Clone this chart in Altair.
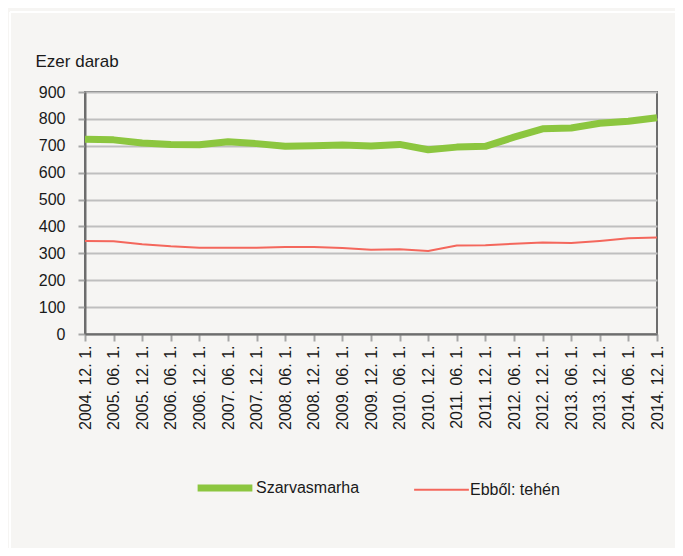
import altair as alt
import pandas as pd

dates = ["2004. 12. 1.", "2005. 06. 1.", "2005. 12. 1.", "2006. 06. 1.", "2006. 12. 1.",
         "2007. 06. 1.", "2007. 12. 1.", "2008. 06. 1.", "2008. 12. 1.", "2009. 06. 1.",
         "2009. 12. 1.", "2010. 06. 1.", "2010. 12. 1.", "2011. 06. 1.", "2011. 12. 1.",
         "2012. 06. 1.", "2012. 12. 1.", "2013. 06. 1.", "2013. 12. 1.", "2014. 06. 1.",
         "2014. 12. 1."]
szarvasmarha = [724, 722, 710, 705, 704, 715, 708, 698, 700, 703, 699, 705, 685, 695, 698,
                732, 763, 766, 784, 791, 804]
tehen = [346, 345, 334, 326, 321, 321, 321, 324, 324, 320, 313, 315, 309, 329, 330,
         336, 340, 338, 346, 356, 359]
series = ["Szarvasmarha", "Ebből: tehén"]
colors = ["#8cc63f", "#f4675c"]
widths = [7, 2]
y_ticks = [0, 100, 200, 300, 400, 500, 600, 700, 800, 900]

rows = []
for i, d in enumerate(dates):
    rows.append({"datum": d, "sorozat": series[0], "ertek": szarvasmarha[i], "idx": i})
    rows.append({"datum": d, "sorozat": series[1], "ertek": tehen[i], "idx": i})
df = pd.DataFrame(rows)

FONT = "Liberation Sans"

legend_opts = dict(title=None, orient="none", direction="horizontal",
                   legendX=109, legendY=365, symbolType="stroke",
                   symbolSize=3000, labelFontSize=16, labelFont=FONT,
                   labelColor="#1a1a1a", columnPadding=50, labelOffset=0)

lines = alt.Chart(df).mark_line(strokeCap="butt", strokeJoin="round").encode(
    x=alt.X("datum:N", sort=dates, scale=alt.Scale(padding=0),
            axis=alt.Axis(title=None, labelAngle=-90, labelFontSize=16, labelFont=FONT,
                          labelColor="#1a1a1a", tickSize=7, tickColor="#a6a6a6",
                          tickWidth=2, labelPadding=4, domainColor="#6d6d6d",
                          domainWidth=2, grid=False, labelBaseline="middle",
                          labelAlign="right")),
    y=alt.Y("ertek:Q", scale=alt.Scale(domain=[0, 900], nice=False),
            axis=alt.Axis(values=y_ticks, title="Ezer darab", titleAngle=0,
                          titleAlign="left", titleBaseline="alphabetic",
                          titleX=-50, titleY=-26, titleFontSize=17, titleFont=FONT,
                          titleFontWeight="normal", titleColor="#1a1a1a",
                          labelFontSize=16, labelFont=FONT, labelColor="#1a1a1a",
                          tickSize=7, tickColor="#a6a6a6", tickWidth=2, labelPadding=13,
                          domainColor="#6d6d6d", domainWidth=2,
                          gridColor="#bfbfbf", gridWidth=2)),
    color=alt.Color("sorozat:N", sort=series,
                    scale=alt.Scale(domain=series, range=colors),
                    legend=alt.Legend(**legend_opts)),
    strokeWidth=alt.StrokeWidth("sorozat:N", sort=series,
                                scale=alt.Scale(domain=series, range=widths),
                                legend=alt.Legend(**legend_opts)),
    order=alt.Order("idx:Q"),
)

frame_v = alt.Chart(df).mark_rule(color="white", strokeWidth=2, clip=False).encode(
    x=alt.value(-75), y=alt.value(-80), y2=alt.value(460))
frame_h = alt.Chart(df).mark_rule(color="white", strokeWidth=2, clip=False).encode(
    x=alt.value(-75), x2=alt.value(600), y=alt.value(-80))

chart = alt.layer(frame_v, frame_h, lines).properties(
    width=572, height=242,
    padding={"left": 77, "top": 84, "right": 18, "bottom": 214},
    autosize=alt.AutoSizeParams(type="none"),
    background="#f6f5f3",
).configure_view(stroke="#6d6d6d", strokeWidth=2)

chart.save("out.html", embed_options={"renderer": "svg", "actions": False})
